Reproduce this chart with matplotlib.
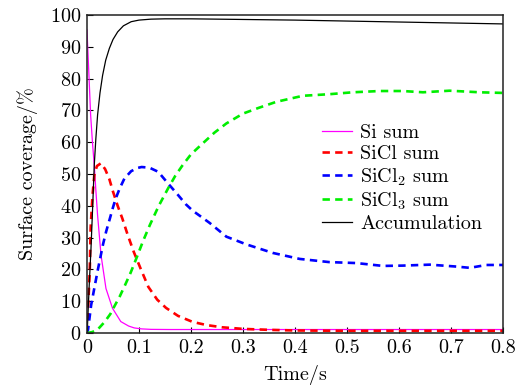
import matplotlib
matplotlib.use("Agg")
import matplotlib.pyplot as plt

plt.rcParams["font.family"] = "serif"
plt.rcParams["font.serif"] = ["cmr10"]
plt.rcParams["mathtext.fontset"] = "cm"
plt.rcParams["axes.formatter.use_mathtext"] = True
plt.rcParams["font.size"] = 14.5

# Surface coverage (%) versus time (s)
t_si = [0, 0.0035, 0.007, 0.0105, 0.014, 0.017, 0.0204, 0.027, 0.0365, 0.049, 0.065, 0.08,
        0.091, 0.105, 0.123, 0.16, 0.2, 0.3, 0.5, 0.8]
si_sum = [95.3, 82, 68.6, 60, 52.8, 45, 37, 24.5, 14, 7.8, 3.6, 2.2, 1.6, 1.3, 1.15, 1.1,
          1.1, 1.1, 1.1, 1.1]

t_sicl = [0, 0.002, 0.0054, 0.007, 0.0105, 0.014, 0.019, 0.027, 0.035, 0.043, 0.05, 0.059,
          0.068, 0.078, 0.09, 0.1025, 0.118, 0.135, 0.152, 0.175, 0.203, 0.23, 0.26, 0.3,
          0.35, 0.4, 0.5, 0.6, 0.7, 0.8]
sicl_sum = [0, 7, 20, 33, 43, 49.5, 52.5, 53.4, 51.5, 48.4, 44.5, 40, 36, 31, 25.5, 20.5,
            14.5, 10.5, 7.9, 5.4, 3.5, 2.5, 1.8, 1.3, 1.0, 0.8, 0.7, 0.7, 0.7, 0.7]

t_sicl2 = [0, 0.002, 0.008, 0.014, 0.0204, 0.026, 0.031, 0.037, 0.044, 0.05, 0.055, 0.063,
           0.072, 0.085, 0.097, 0.105, 0.12, 0.137, 0.156, 0.172, 0.19, 0.203, 0.22, 0.236,
           0.268, 0.306, 0.357, 0.409, 0.466, 0.518, 0.569, 0.607, 0.659, 0.71, 0.736,
           0.768, 0.8]
sicl2_sum = [0, 1, 8.8, 14, 19.5, 24, 28, 32, 36, 39.5, 42.2, 45.5, 48.6, 50.9, 51.9, 52.2,
             52, 50.7, 47, 44, 40.5, 38.5, 36.5, 34.6, 30.3, 27.9, 25.2, 23.3, 22.3, 22,
             21.1, 21.2, 21.5, 20.9, 20.5, 21.4, 21.4]

t_sicl3 = [0, 0.01, 0.02, 0.034, 0.045, 0.053, 0.063, 0.073, 0.084, 0.095, 0.108, 0.121,
           0.138, 0.156, 0.17, 0.184, 0.2, 0.223, 0.245, 0.268, 0.3, 0.33, 0.364, 0.415,
           0.466, 0.511, 0.563, 0.607, 0.646, 0.697, 0.755, 0.8]
sicl3_sum = [0, 0.3, 1.0, 3.5, 6, 8.5, 11.5, 15, 19, 23.5, 29, 34, 40, 45.5, 49.5, 52.8,
             56.2, 59.7, 63, 65.9, 69, 70.8, 72.7, 74.6, 75.1, 75.7, 76.1, 76.1, 75.7,
             76.2, 75.7, 75.5]

t_acc = [0, 0.001, 0.004, 0.0077, 0.011, 0.014, 0.017, 0.0204, 0.025, 0.03, 0.036, 0.043,
         0.05, 0.059, 0.07, 0.085, 0.1, 0.123, 0.15, 0.2, 0.3, 0.4, 0.5, 0.6, 0.7, 0.8]
accumulation = [0, 2.5, 14, 26.6, 40, 52.8, 61, 68.6, 75.5, 81, 85.8, 89.5, 92.3, 94.7,
                96.6, 97.9, 98.4, 98.7, 98.8, 98.8, 98.6, 98.4, 98.1, 97.8, 97.5, 97.2]

x_ticks = [0, 0.1, 0.2, 0.3, 0.4, 0.5, 0.6, 0.7, 0.8]
x_tick_labels = ["0", "0.1", "0.2", "0.3", "0.4", "0.5", "0.6", "0.7", "0.8"]
y_ticks = [0, 10, 20, 30, 40, 50, 60, 70, 80, 90, 100]

fig = plt.figure(figsize=(5.24, 3.85), dpi=100)
ax = fig.add_axes([0.166, 0.135, 0.794, 0.826])

dash = (2.8, 2.0)
ax.plot(t_si, si_sum, color="#ff00ff", lw=0.9, label="Si sum")
ax.plot(t_sicl, sicl_sum, color="#ff0000", lw=1.9, dashes=dash, label="SiCl sum")
ax.plot(t_sicl2, sicl2_sum, color="#0000ff", lw=1.9, dashes=dash, label="SiCl$_2$ sum")
ax.plot(t_sicl3, sicl3_sum, color="#00ee00", lw=1.9, dashes=dash, label="SiCl$_3$ sum")
ax.plot(t_acc, accumulation, color="black", lw=0.9, label="Accumulation")

ax.set_xlim(0, 0.8)
ax.set_ylim(0, 100)
ax.set_xticks(x_ticks)
ax.set_xticklabels(x_tick_labels)
ax.set_yticks(y_ticks)
ax.tick_params(direction="in", length=4, width=0.8, top=False, right=False, pad=4)
for s in ax.spines.values():
    s.set_linewidth(1.1)
    s.set_color("#222222")

ax.set_xlabel("Time/s", labelpad=6)
ax.set_ylabel("Surface coverage/%", labelpad=9)

ax.legend(loc="center left", bbox_to_anchor=(0.565, 0.486), frameon=False,
          borderpad=0, borderaxespad=0, handlelength=1.5, handletextpad=0.4,
          labelspacing=0.15)

fig.savefig("out.png", dpi=100)
